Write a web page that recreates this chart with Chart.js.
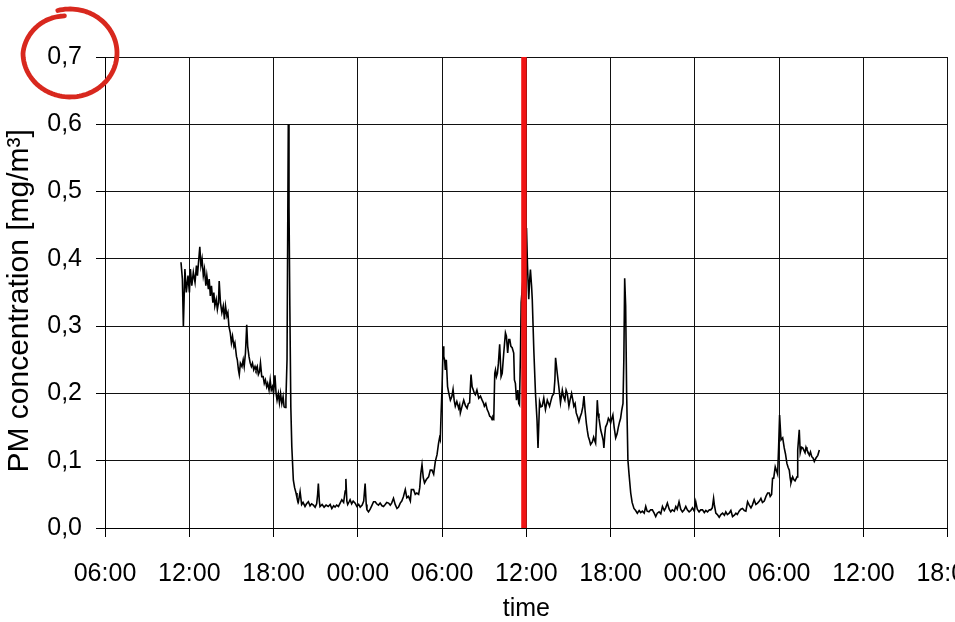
<!DOCTYPE html>
<html><head><meta charset="utf-8">
<script src="https://cdn.jsdelivr.net/npm/chart.js@4"></script>
<style>html,body{margin:0;padding:0;background:#fff;overflow:hidden;width:955px;height:622px}canvas{display:block}</style>
</head><body><canvas id="c" width="1001" height="622"></canvas>
<script>
// time in hours after 06:00 of day 1
const times = [
5.41,5.51,5.58,5.69,5.79,5.91,6.01,6.08,6.18,6.29,
6.41,6.51,6.58,6.68,6.75,6.83,6.91,7.00,7.08,7.18,
7.25,7.36,7.42,7.50,7.58,7.68,7.75,7.82,7.92,8.00,
8.08,8.13,8.22,8.32,8.42,8.50,8.58,8.68,8.75,8.82,
8.92,9.00,9.08,9.18,9.25,9.36,9.42,9.50,9.56,9.64,
9.75,9.84,9.91,10.00,10.09,10.16,10.25,10.34,10.42,10.50,
10.59,10.68,10.75,10.84,10.92,11.00,11.07,11.16,11.26,11.34,
11.42,11.51,11.58,11.68,11.76,11.84,11.92,12.00,12.10,12.18,
12.25,12.34,12.42,12.50,12.59,12.68,12.75,12.82,12.88,12.96,
13.05,13.10,13.16,13.23,13.30,13.41,13.50,13.60,13.67,13.77,
13.89,14.00,14.10,14.24,14.35,14.48,14.60,14.71,14.84,14.96,
15.07,15.14,15.19,15.26,15.31,15.46,15.60,15.74,15.89,16.03,
16.15,16.28,16.38,16.49,16.62,16.74,16.86,16.99,17.10,17.15,
17.22,17.28,17.38,17.45,17.56,17.67,17.81,17.93,18.06,18.17,
18.31,18.42,18.52,18.60,18.65,18.76,18.88,18.99,19.12,19.24,
19.34,19.47,19.59,19.72,19.83,19.95,20.06,20.19,20.31,20.41,
20.54,20.66,20.79,20.90,21.02,21.13,21.24,21.38,21.49,21.61,
21.74,21.81,21.97,22.09,22.20,22.33,22.41,22.48,22.57,22.66,
22.75,22.88,23.04,23.16,23.28,23.40,23.52,23.64,23.75,23.82,
23.87,23.93,24.00,24.07,24.12,24.18,24.23,24.30,24.39,24.48,
24.59,24.69,24.78,24.86,24.94,25.05,25.18,25.25,25.30,25.41,
25.54,25.66,25.78,25.87,25.96,26.06,26.14,26.21,26.30,26.37,
26.48,26.61,26.73,26.85,26.94,27.01,27.11,27.21,27.30,27.39,
27.48,27.56,27.62,27.68,27.75,27.80,27.87,27.94,28.01,28.10,
28.20,28.28,28.39,28.51,28.58,28.67,28.75,28.82,28.90,28.99,
29.10,29.15,29.22,29.30,29.39,29.46,29.51,29.58,29.63,29.72,
29.83,29.94,30.01,30.08,30.17,30.24,30.29,30.37,30.42,30.53,
30.65,30.76,30.83,30.94,31.04,31.13,31.24,31.36,31.49,31.58,
31.65,31.76,31.84,31.96,32.03,32.08,32.20,32.31,32.43,32.56,
32.65,32.74,32.83,32.91,33.03,33.11,33.22,33.31,33.38,33.47,
33.55,33.65,33.74,33.83,33.93,34.02,34.10,34.18,34.27,34.34,
34.41,34.50,34.57,34.70,34.79,34.86,34.93,35.00,35.05,35.11,
35.17,35.29,35.41,35.47,35.52,35.59,35.64,35.75,35.84,35.93,
36.00,36.07,36.16,36.25,36.36,36.46,36.55,36.64,36.71,36.79,
36.88,36.94,37.00,37.07,37.14,37.23,37.31,37.43,37.53,37.66,
37.78,37.90,38.03,38.14,38.26,38.39,38.50,38.60,38.73,38.85,
38.97,39.10,39.21,39.32,39.45,39.57,39.69,39.82,39.92,40.04,
40.17,40.28,40.39,40.53,40.64,40.74,40.87,40.99,41.11,41.24,
41.35,41.46,41.59,41.71,41.83,41.96,42.06,42.17,42.30,42.42,
42.54,42.67,42.78,42.90,43.03,43.13,43.24,43.33,43.38,43.49,
43.60,43.73,43.85,43.97,44.10,44.20,44.31,44.44,44.56,44.68,
44.81,44.92,45.02,45.15,45.27,45.39,45.52,45.63,45.75,45.87,
45.99,46.09,46.22,46.34,46.46,46.59,46.70,46.81,46.94,47.06,
47.18,47.29,47.36,47.46,47.53,47.61,47.72,47.77,47.89,47.96,
48.03,48.13,48.25,48.36,48.45,48.55,48.64,48.72,48.78,48.84,
48.96,49.04,49.13,49.20,49.27,49.32,49.43,49.50,49.59,49.68,
49.77,49.84,49.91,49.98,50.07,50.15,50.23,50.32,50.41,50.50,
50.62,50.75,50.86
];
// PM concentration [mg/m³]
const pm = [
.395,.37,.30,.385,.35,.375,.35,.385,.36,.38,
.365,.39,.375,.40,.418,.39,.40,.375,.385,.36,
.375,.355,.37,.345,.36,.335,.35,.33,.34,.325,
.335,.367,.335,.32,.33,.31,.33,.315,.32,.30,
.29,.275,.285,.27,.275,.255,.25,.235,.228,.245,
.24,.25,.24,.26,.302,.27,.255,.245,.24,.245,
.235,.24,.235,.24,.228,.232,.245,.225,.225,.215,
.22,.21,.215,.205,.22,.205,.21,.2,.227,.2,
.19,.2,.186,.2,.185,.195,.18,.179,.19,.25,
.60,.478,.33,.18,.121,.071,.06,.052,.045,.039,
.054,.035,.038,.032,.036,.039,.033,.036,.034,.031,
.036,.05,.066,.04,.032,.035,.031,.034,.032,.035,
.029,.033,.031,.034,.032,.037,.042,.038,.055,.073,
.04,.035,.039,.042,.036,.04,.037,.032,.035,.031,
.034,.04,.066,.035,.027,.024,.028,.033,.039,.039,
.036,.034,.037,.033,.032,.035,.038,.037,.034,.037,
.044,.035,.029,.031,.037,.04,.046,.057,.045,.047,
.04,.057,.057,.05,.052,.05,.06,.08,.094,.075,
.067,.072,.076,.086,.086,.08,.099,.109,.126,.134,
.131,.17,.21,.27,.255,.25,.235,.25,.21,.2,
.19,.195,.206,.19,.181,.188,.178,.183,.171,.18,
.19,.182,.178,.185,.186,.228,.21,.206,.2,.198,
.205,.193,.196,.19,.186,.181,.185,.176,.172,.166,
.165,.161,.165,.163,.23,.235,.225,.23,.245,.273,
.225,.23,.26,.29,.285,.26,.28,.28,.27,.268,
.26,.22,.215,.19,.205,.185,.183,.26,.335,.36,
.39,.42,.446,.39,.34,.37,.384,.36,.34,.265,
.2,.16,.119,.188,.18,.181,.193,.176,.19,.185,
.181,.19,.196,.2,.22,.253,.23,.21,.186,.205,
.195,.19,.205,.2,.181,.19,.2,.19,.181,.185,
.171,.165,.158,.165,.171,.18,.196,.175,.156,.145,
.136,.13,.124,.128,.135,.13,.126,.16,.19,.17,
.163,.146,.136,.13,.119,.14,.15,.155,.163,.16,
.156,.162,.168,.15,.134,.14,.15,.158,.163,.175,
.185,.25,.371,.33,.2,.101,.08,.052,.038,.029,
.026,.022,.026,.023,.025,.022,.032,.025,.024,.027,
.027,.022,.017,.022,.024,.021,.032,.026,.03,.037,
.028,.024,.027,.025,.032,.028,.039,.028,.024,.027,
.032,.027,.024,.026,.03,.025,.039,.028,.024,.027,
.027,.023,.026,.024,.027,.027,.03,.044,.035,.022,
.02,.016,.02,.022,.019,.024,.02,.022,.026,.017,
.019,.022,.02,.025,.028,.029,.026,.025,.039,.034,
.03,.034,.042,.035,.037,.04,.044,.038,.04,.047,
.052,.052,.047,.05,.074,.074,.091,.091,.08,.12,
.168,.131,.134,.119,.11,.096,.09,.086,.075,.067,
.076,.072,.07,.073,.076,.116,.146,.112,.12,.119,
.115,.112,.12,.116,.112,.108,.113,.106,.104,.099,
.104,.108,.116
];
const markerTime = 29.83;   // red vertical marker
const xTickLabels = ['06:00','12:00','18:00','00:00','06:00','12:00','18:00','00:00','06:00','12:00','18:00'];
const xMin = 0, xMax = 60, xStep = 6;
const yMin = 0, yMax = 0.7, yStep = 0.1;

const FONT = 'Liberation Sans, Arial, sans-serif';
const series = times.map((t, i) => ({x: t, y: pm[i]}));
const marker = [{x: markerTime, y: yMin}, {x: markerTime, y: yMax}];

const circlePlugin = {
  id: 'circleNote',
  afterDraw(chart) {
    const ctx = chart.ctx;
    ctx.save();
    ctx.strokeStyle = '#d8281e';
    ctx.lineWidth = 4.8;
    ctx.lineCap = 'round';
    ctx.lineJoin = 'round';
    const cx = 70, cy = 53, rx = 47, ry = 44;
    const a0 = -105 * Math.PI / 180, a1 = 262 * Math.PI / 180;
    ctx.beginPath();
    const n = 120;
    for (let k = 0; k <= n; k++) {
      const a = a0 + (a1 - a0) * k / n;
      const deg = a * 180 / Math.PI;
      let s = 1;
      if (deg > 180) s = 1 - 0.15 * (deg - 180) / 82;
      const px = cx + rx * s * Math.cos(a), py = cy + ry * s * Math.sin(a);
      if (k === 0) ctx.moveTo(px, py); else ctx.lineTo(px, py);
    }
    ctx.stroke();
    ctx.restore();
  }
};

new Chart(document.getElementById('c'), {
  type: 'line',
  data: {
    datasets: [
      {data: marker, borderColor: '#f01414', borderWidth: 5.5, pointRadius: 0, order: 0, borderCapStyle: 'butt'},
      {data: series, borderColor: '#000', borderWidth: 1.6, pointRadius: 0, tension: 0, order: 1}
    ]
  },
  options: {
    responsive: false,
    animation: false,
    devicePixelRatio: 1,
    layout: {padding: {left: 0, top: 57, right: 0, bottom: 0}},
    plugins: {legend: {display: false}, tooltip: {enabled: false}},
    scales: {
      x: {
        type: 'linear', min: xMin, max: xMax,
        afterFit(s) { s.height = 94; },
        ticks: {stepSize: xStep, autoSkip: false, maxRotation: 0, padding: 22, color: '#000',
          font: {family: FONT, size: 25},
          callback: v => xTickLabels[Math.round((v - xMin) / xStep)]},
        grid: {color: '#111', lineWidth: 1, tickLength: 9, tickColor: '#000'},
        border: {color: '#000', width: 1},
        title: {display: true, text: 'time', color: '#000', font: {family: FONT, size: 25}, padding: {top: 0, bottom: -2}}
      },
      y: {
        min: yMin, max: yMax,
        afterFit(s) { s.width = 105; },
        ticks: {stepSize: yStep, padding: 14, color: '#000', font: {family: FONT, size: 25},
          callback: v => v.toFixed(1).replace('.', ',')},
        grid: {color: '#111', lineWidth: 1, tickLength: 9, tickColor: '#000'},
        border: {color: '#000', width: 1},
        title: {display: true, text: 'PM concentration [mg/m³]\u00A0\u00A0', color: '#000', font: {family: FONT, size: 30}, padding: {top: 2, bottom: 0}}
      }
    }
  },
  plugins: [circlePlugin]
});
</script>
</body></html>
